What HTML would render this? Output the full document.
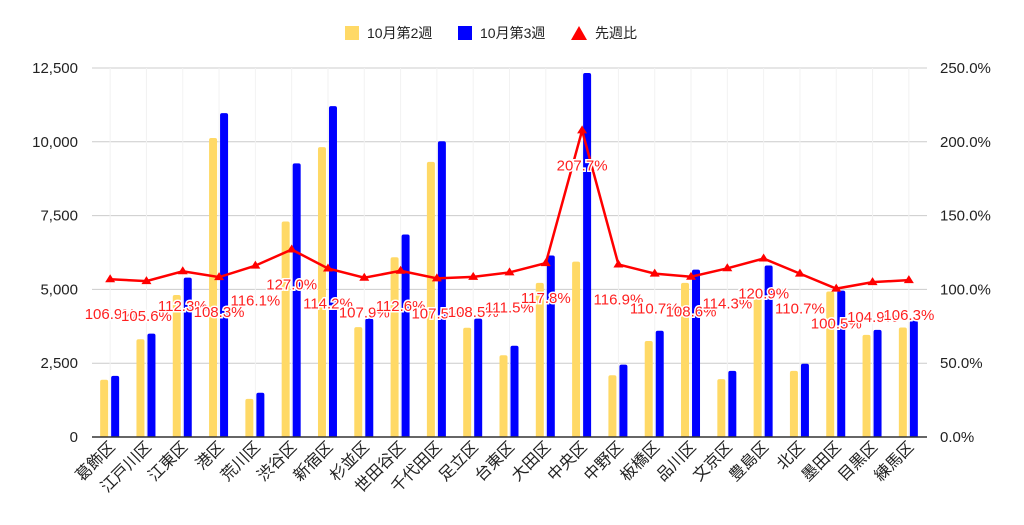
<!DOCTYPE html>
<html><head><meta charset="utf-8"><style>
body{margin:0;background:#fff;}
svg{display:block;font-family:"Liberation Sans","Noto Sans CJK JP",sans-serif;}
</style></head><body>
<svg id="chart" width="1024" height="525" viewBox="0 0 1024 525">
<g>
<g><rect x="345" y="26" width="14" height="14" fill="#ffd966"/><text x="367" y="38" font-size="14" fill="#222">10月第2週</text></g>
<g><rect x="458" y="26" width="14" height="14" fill="#0000ff"/><text x="480" y="38" font-size="14" fill="#222">10月第3週</text></g>
<g><polygon points="579,26 587,40 571,40" fill="#ff0000"/><text x="595" y="38" font-size="14" fill="#222">先週比</text></g>
</g>
<g id="grid"></g>
<g id="bars"></g>
<g id="line"></g>
<g id="axes"></g>
</svg>
<script>
const categories=["葛飾区","江戸川区","江東区","港区","荒川区","渋谷区","新宿区","杉並区","世田谷区","千代田区","足立区","台東区","大田区","中央区","中野区","板橋区","品川区","文京区","豊島区","北区","墨田区","目黒区","練馬区"];
const week2=[1940,3310,4810,10130,1290,7300,9820,3720,6090,9320,3700,2770,5220,5940,2090,3250,5220,1960,4800,2240,4930,3460,3710];
const week3=[2070,3500,5400,10970,1500,9270,11210,4010,6860,10020,4010,3090,6150,12330,2450,3600,5670,2240,5810,2480,4960,3630,3940];
const ratio=[106.9,105.6,112.3,108.3,116.1,127.0,114.2,107.9,112.6,107.5,108.5,111.5,117.8,207.7,116.9,110.7,108.6,114.3,120.9,110.7,100.5,104.9,106.3];
const leftTicks=[0,2500,5000,7500,10000,12500];
const rightTicks=[0,50,100,150,200,250];
const NS="http://www.w3.org/2000/svg";
const y0=437,yTop=68,x0=92,x1=927;
const yL=v=>y0-(v/12500)*(y0-yTop);
const yR=v=>y0-(v/250)*(y0-yTop);
const step=(x1-x0)/categories.length;
const xC=i=>x0+step*(i+0.5);
function mk(tag,attrs,parent){const e=document.createElementNS(NS,tag);for(const k in attrs)e.setAttribute(k,attrs[k]);parent.appendChild(e);return e;}
const grid=document.getElementById('grid'),bars=document.getElementById('bars'),line=document.getElementById('line'),axes=document.getElementById('axes');
leftTicks.forEach((t,i)=>{
 const y=yL(t);
 if(t>0){const g=mk('line',{x1:x0,x2:x1,y1:y,y2:y,stroke:'#cccccc','stroke-width':1},grid);
 }
 const l=mk('text',{x:78,y:y+5,'text-anchor':'end','font-size':15,fill:'#222'},axes);l.textContent=t.toLocaleString('en-US');
 
});
rightTicks.forEach(t=>{
 const l=mk('text',{x:940,y:yR(t)+5,'font-size':15,fill:'#222'},axes);l.textContent=t.toFixed(1)+'%';
 
});
categories.forEach((c,i)=>{
 const x=xC(i);
 const v=mk('line',{x1:x,x2:x,y1:yTop,y2:y0,stroke:'#f2f2f2','stroke-width':1},grid);
 
 const b2=mk('path',{d:`M${x-10},${y0}V${yL(week2[i])+2}q0,-2 2,-2h4q2,0 2,2V${y0}Z`,fill:'#ffd966'},bars);
 
 const b3=mk('path',{d:`M${x+1},${y0}V${yL(week3[i])+2}q0,-2 2,-2h4q2,0 2,2V${y0}Z`,fill:'#0000ff'},bars);
 
 const t=mk('text',{transform:`translate(${x+6},${y0+11}) rotate(-45)`,'text-anchor':'end','font-size':16,fill:'#222'},axes);
 t.textContent=c;
 
});
const ax=mk('line',{x1:x0,x2:x1,y1:y0,y2:y0,stroke:'#333','stroke-width':1.5},axes);

const pl=mk('polyline',{points:ratio.map((r,i)=>xC(i)+','+yR(r)).join(' '),fill:'none',stroke:'#ff0000','stroke-width':2.5},line);

ratio.forEach((r,i)=>{
 const x=xC(i),y=yR(r);
 const m=mk('polygon',{points:`${x},${y-5} ${x+5},${y+3} ${x-5},${y+3}`,fill:'#ff0000'},line);
 
});
ratio.forEach((r,i)=>{
 const x=xC(i),y=yR(r);
 const l=mk('text',{x:x,y:y+40,'text-anchor':'middle','font-size':15,fill:'#ff2020',stroke:'#fff','stroke-width':3,'paint-order':'stroke'},line);
 l.textContent=r.toFixed(1)+'%';
 
});
</script>
</body></html>
